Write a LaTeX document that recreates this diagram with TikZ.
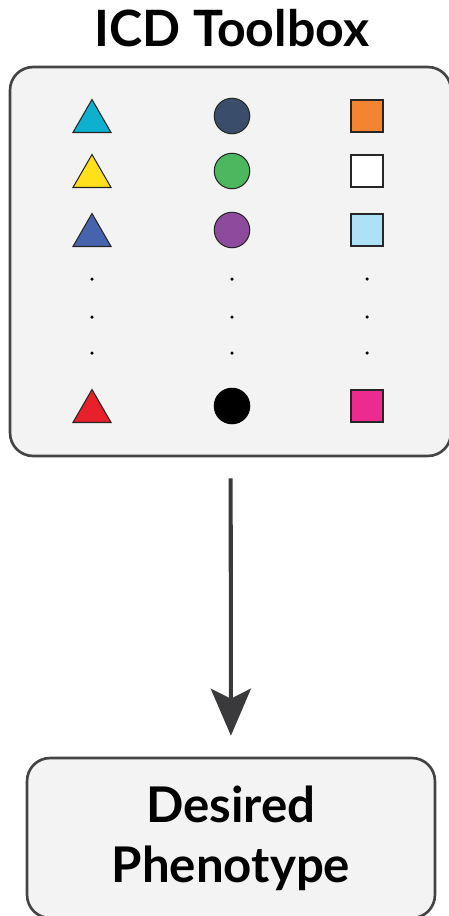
\documentclass[tikz,border=0pt]{standalone}
\usepackage{fontspec}
\setmainfont{Lato}
\usetikzlibrary{arrows.meta,shapes.geometric}

\definecolor{boxgray}{HTML}{F3F3F3}
\definecolor{edgegray}{HTML}{444446}
\definecolor{arrowgray}{HTML}{3A3A3C}
\definecolor{tcyan}{HTML}{0EB0D0}
\definecolor{tyellow}{HTML}{FFE01B}
\definecolor{tblue}{HTML}{4763AE}
\definecolor{tred}{HTML}{E8202A}
\definecolor{cnavy}{HTML}{3A4E6B}
\definecolor{cgreen}{HTML}{4CB75E}
\definecolor{cpurple}{HTML}{8E4A9C}
\definecolor{sorange}{HTML}{F48432}
\definecolor{slight}{HTML}{AEE0F7}
\definecolor{spink}{HTML}{EC2A90}

\tikzset{
    tri/.style={regular polygon, regular polygon sides=3, draw=black!85,
        line width=0.6pt, minimum size=0.88cm, inner sep=0pt, yshift=-0.11cm},
    circ/.style={circle, draw=black!85, line width=0.6pt,
        minimum size=0.71cm, inner sep=0pt},
    sq/.style={rectangle, draw=black!85, line width=0.6pt,
        minimum size=0.64cm, inner sep=0pt},
    ellip/.style={circle, fill=black, minimum size=0.07cm, inner sep=0pt},
    panel/.style={draw=edgegray, fill=boxgray, line width=1.5pt,
        rounded corners=0.46cm}
}

\begin{document}
\begin{tikzpicture}[x=0.02cm, y=-0.02cm]

\useasboundingbox (0,0) rectangle (449,916);
\clip (0,0) rectangle (449,916);

% title and toolbox
\node[font=\fontsize{28.5}{34}\selectfont\bfseries, anchor=base] (title) at (232,46) {ICD Toolbox};
\node[panel, minimum width=8.82cm, minimum height=7.78cm] (toolbox) at (230.5,261.5) {};

% triangles
\node[tri, fill=tcyan] (tri1) at (92,116) {};
\node[tri, fill=tyellow] (tri2) at (92,171) {};
\node[tri, fill=tblue] (tri3) at (92,230) {};
\node[tri, fill=tred] (trin) at (92,406) {};

% circles
\node[circ, fill=cnavy] (circ1) at (232,116) {};
\node[circ, fill=cgreen] (circ2) at (232,171) {};
\node[circ, fill=cpurple] (circ3) at (232,230) {};
\node[circ, fill=black, draw=black] (circn) at (232,406) {};

% squares
\node[sq, fill=sorange] (sq1) at (367,116) {};
\node[sq, fill=white] (sq2) at (367,171) {};
\node[sq, fill=slight] (sq3) at (367,230) {};
\node[sq, fill=spink] (sqn) at (367,406) {};

% ellipsis dots
\node[ellip] (tridot1) at (92,279) {};
\node[ellip] (tridot2) at (92,317) {};
\node[ellip] (tridot3) at (92,353) {};
\node[ellip] (circdot1) at (232,279) {};
\node[ellip] (circdot2) at (232,317) {};
\node[ellip] (circdot3) at (232,353) {};
\node[ellip] (sqdot1) at (367,279) {};
\node[ellip] (sqdot2) at (367,317) {};
\node[ellip] (sqdot3) at (367,353) {};

% result
\node[panel, minimum width=8.16cm, minimum height=3.2cm, align=center,
    font=\fontsize{28}{34}\selectfont\bfseries] (pheno) at (231,838)
{Desired\\Phenotype};

\draw[-{Stealth[length=0.94cm, width=0.8cm, inset=0.2cm]}, line width=2.3pt,
    draw=arrowgray, fill=arrowgray, shorten <=0.42cm, shorten >=0.42cm]
    (toolbox) -- (pheno);

\end{tikzpicture}
\end{document}
